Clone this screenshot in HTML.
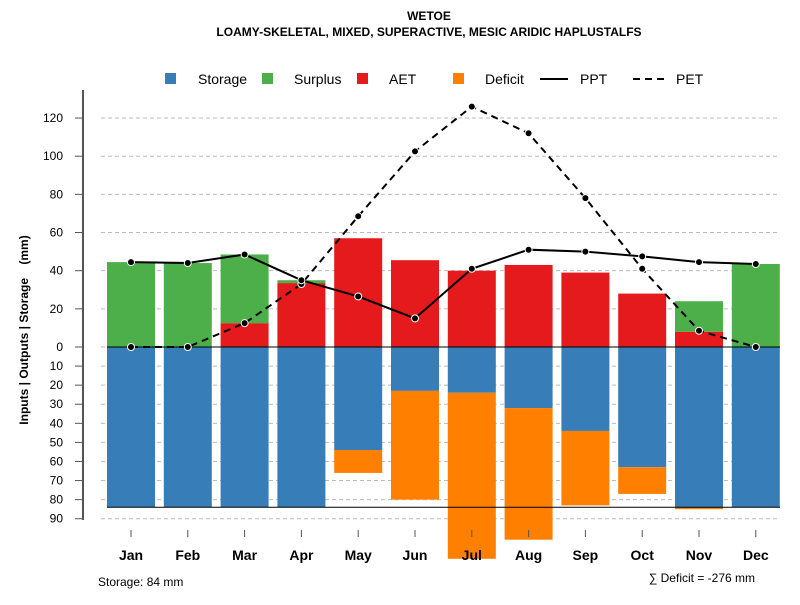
<!DOCTYPE html>
<html><head><meta charset="utf-8"><style>
body{margin:0;background:#fff}
svg text{font-family:"Liberation Sans",sans-serif}
</style></head><body>
<svg id="c" width="800" height="600" xmlns="http://www.w3.org/2000/svg">
<text x="429" y="20" text-anchor="middle" font-size="12" font-weight="bold">WETOE</text>
<text x="429" y="36" text-anchor="middle" font-size="12" font-weight="bold">LOAMY-SKELETAL, MIXED, SUPERACTIVE, MESIC ARIDIC HAPLUSTALFS</text>
<g id="grid"></g><g id="bars"></g><g id="lines"></g><g id="axes"></g>
<g font-size="14">
<rect x="165" y="73" width="11" height="11" fill="#377eb8"/><text x="198" y="84">Storage</text>
<rect x="262" y="73" width="11" height="11" fill="#4daf4a"/><text x="294" y="84">Surplus</text>
<rect x="357" y="73" width="11" height="11" fill="#e41a1c"/><text x="389" y="84">AET</text>
<rect x="453" y="73" width="11" height="11" fill="#ff7f00"/><text x="485" y="84">Deficit</text>
<line x1="540" y1="79" x2="568" y2="79" stroke="#000" stroke-width="2"/><text x="580" y="84">PPT</text>
<line x1="633" y1="79" x2="665" y2="79" stroke="#000" stroke-width="2" stroke-dasharray="7,5"/><text x="676" y="84">PET</text>
</g>
<text transform="translate(28,330) rotate(-90)" text-anchor="middle" font-size="12" font-weight="bold">Inputs | Outputs | Storage&#160;&#160;&#160;&#160;(mm)</text>
<text x="98" y="586" font-size="12">Storage: 84 mm</text>
<text x="755" y="582" text-anchor="end" font-size="12">∑ Deficit = -276 mm</text>
</svg>
<script>
const months=["Jan","Feb","Mar","Apr","May","Jun","Jul","Aug","Sep","Oct","Nov","Dec"];
const storage=[84,84,84,84,54,23,24,32,44,63,84,84];
const deficit=[0,0,0,0,12,57,87,69,39,14,1,0];
const aet=[0,0,12.5,33.5,57,45.5,40,43,39,28,8,0];
const surplus=[44.5,44,36,1.5,0,0,0,0,0,0,16,43.5];
const ppt=[44.5,44,48.5,35,26.5,15,41,51,50,47.5,44.5,43.5];
const pet=[0,0,12.5,33,68.5,102.5,126,112,78,41,8.5,0];
const posTicks=[0,20,40,60,80,100,120];
const negTicks=[10,20,30,40,50,60,70,80,90];
const NS="http://www.w3.org/2000/svg";
const y0=347,k=1.908;
const yv=v=>y0-v*k;
const xc=i=>131+i*56.8;
const bw=48;
function mk(p,t,a){const e=document.createElementNS(NS,t);for(const n in a)e.setAttribute(n,a[n]);document.getElementById(p).appendChild(e);return e;}
posTicks.concat(negTicks.map(v=>-v)).forEach(v=>{
 const g=mk("grid","line",{x1:101,x2:780,y1:yv(v),y2:yv(v),stroke:"#bbb","stroke-dasharray":"4,3"});
 
 
 const t=mk("axes","line",{x1:75,x2:83,y1:yv(v),y2:yv(v),stroke:"#555"});
 
 
 const l=mk("axes","text",{x:63,y:yv(v)+4,"text-anchor":"end","font-size":12});
 l.textContent=Math.abs(v);
 
 
});
const ax=mk("axes","line",{x1:83,x2:83,y1:90,y2:520,stroke:"#555","stroke-width":2});


months.forEach((m,i)=>{
 const x=xc(i)-bw/2;
 const r1=mk("bars","rect",{x:x,y:y0,width:bw,height:storage[i]*k,fill:"#377eb8"});
 
 
 if(deficit[i]>0){const r=mk("bars","rect",{x:x,y:yv(-storage[i]),width:bw,height:deficit[i]*k,fill:"#ff7f00"});
 
 }
 if(aet[i]>0){const r=mk("bars","rect",{x:x,y:yv(aet[i]),width:bw,height:aet[i]*k,fill:"#e41a1c"});
 
 }
 if(surplus[i]>0){const r=mk("bars","rect",{x:x,y:yv(aet[i]+surplus[i]),width:bw,height:surplus[i]*k,fill:"#4daf4a"});
 
 }
 const t=mk("axes","line",{x1:xc(i),x2:xc(i),y1:530,y2:537,stroke:"#555"});
 
 
 const l=mk("axes","text",{x:xc(i),y:560,"text-anchor":"middle","font-size":14,"font-weight":"bold"});
 l.textContent=m;
 
 
});
const zl=mk("bars","line",{x1:107,x2:780,y1:y0,y2:y0,stroke:"#000"});


const sl=mk("bars","line",{x1:107,x2:780,y1:yv(-84),y2:yv(-84),stroke:"#000"});


function series(arr,name,dash){
 const p=mk("lines","polyline",{points:arr.map((v,i)=>xc(i)+","+yv(v)).join(" "),fill:"none",stroke:"#000","stroke-width":2,"stroke-dasharray":dash});
 
 
 arr.forEach((v,i)=>{const c=mk("lines","circle",{cx:xc(i),cy:yv(v),r:3.5,fill:"#000",stroke:"#fff","stroke-width":1});
 
 });
}
series(pet,"pet","7,5");
series(ppt,"ppt","none");
</script>
</body></html>
